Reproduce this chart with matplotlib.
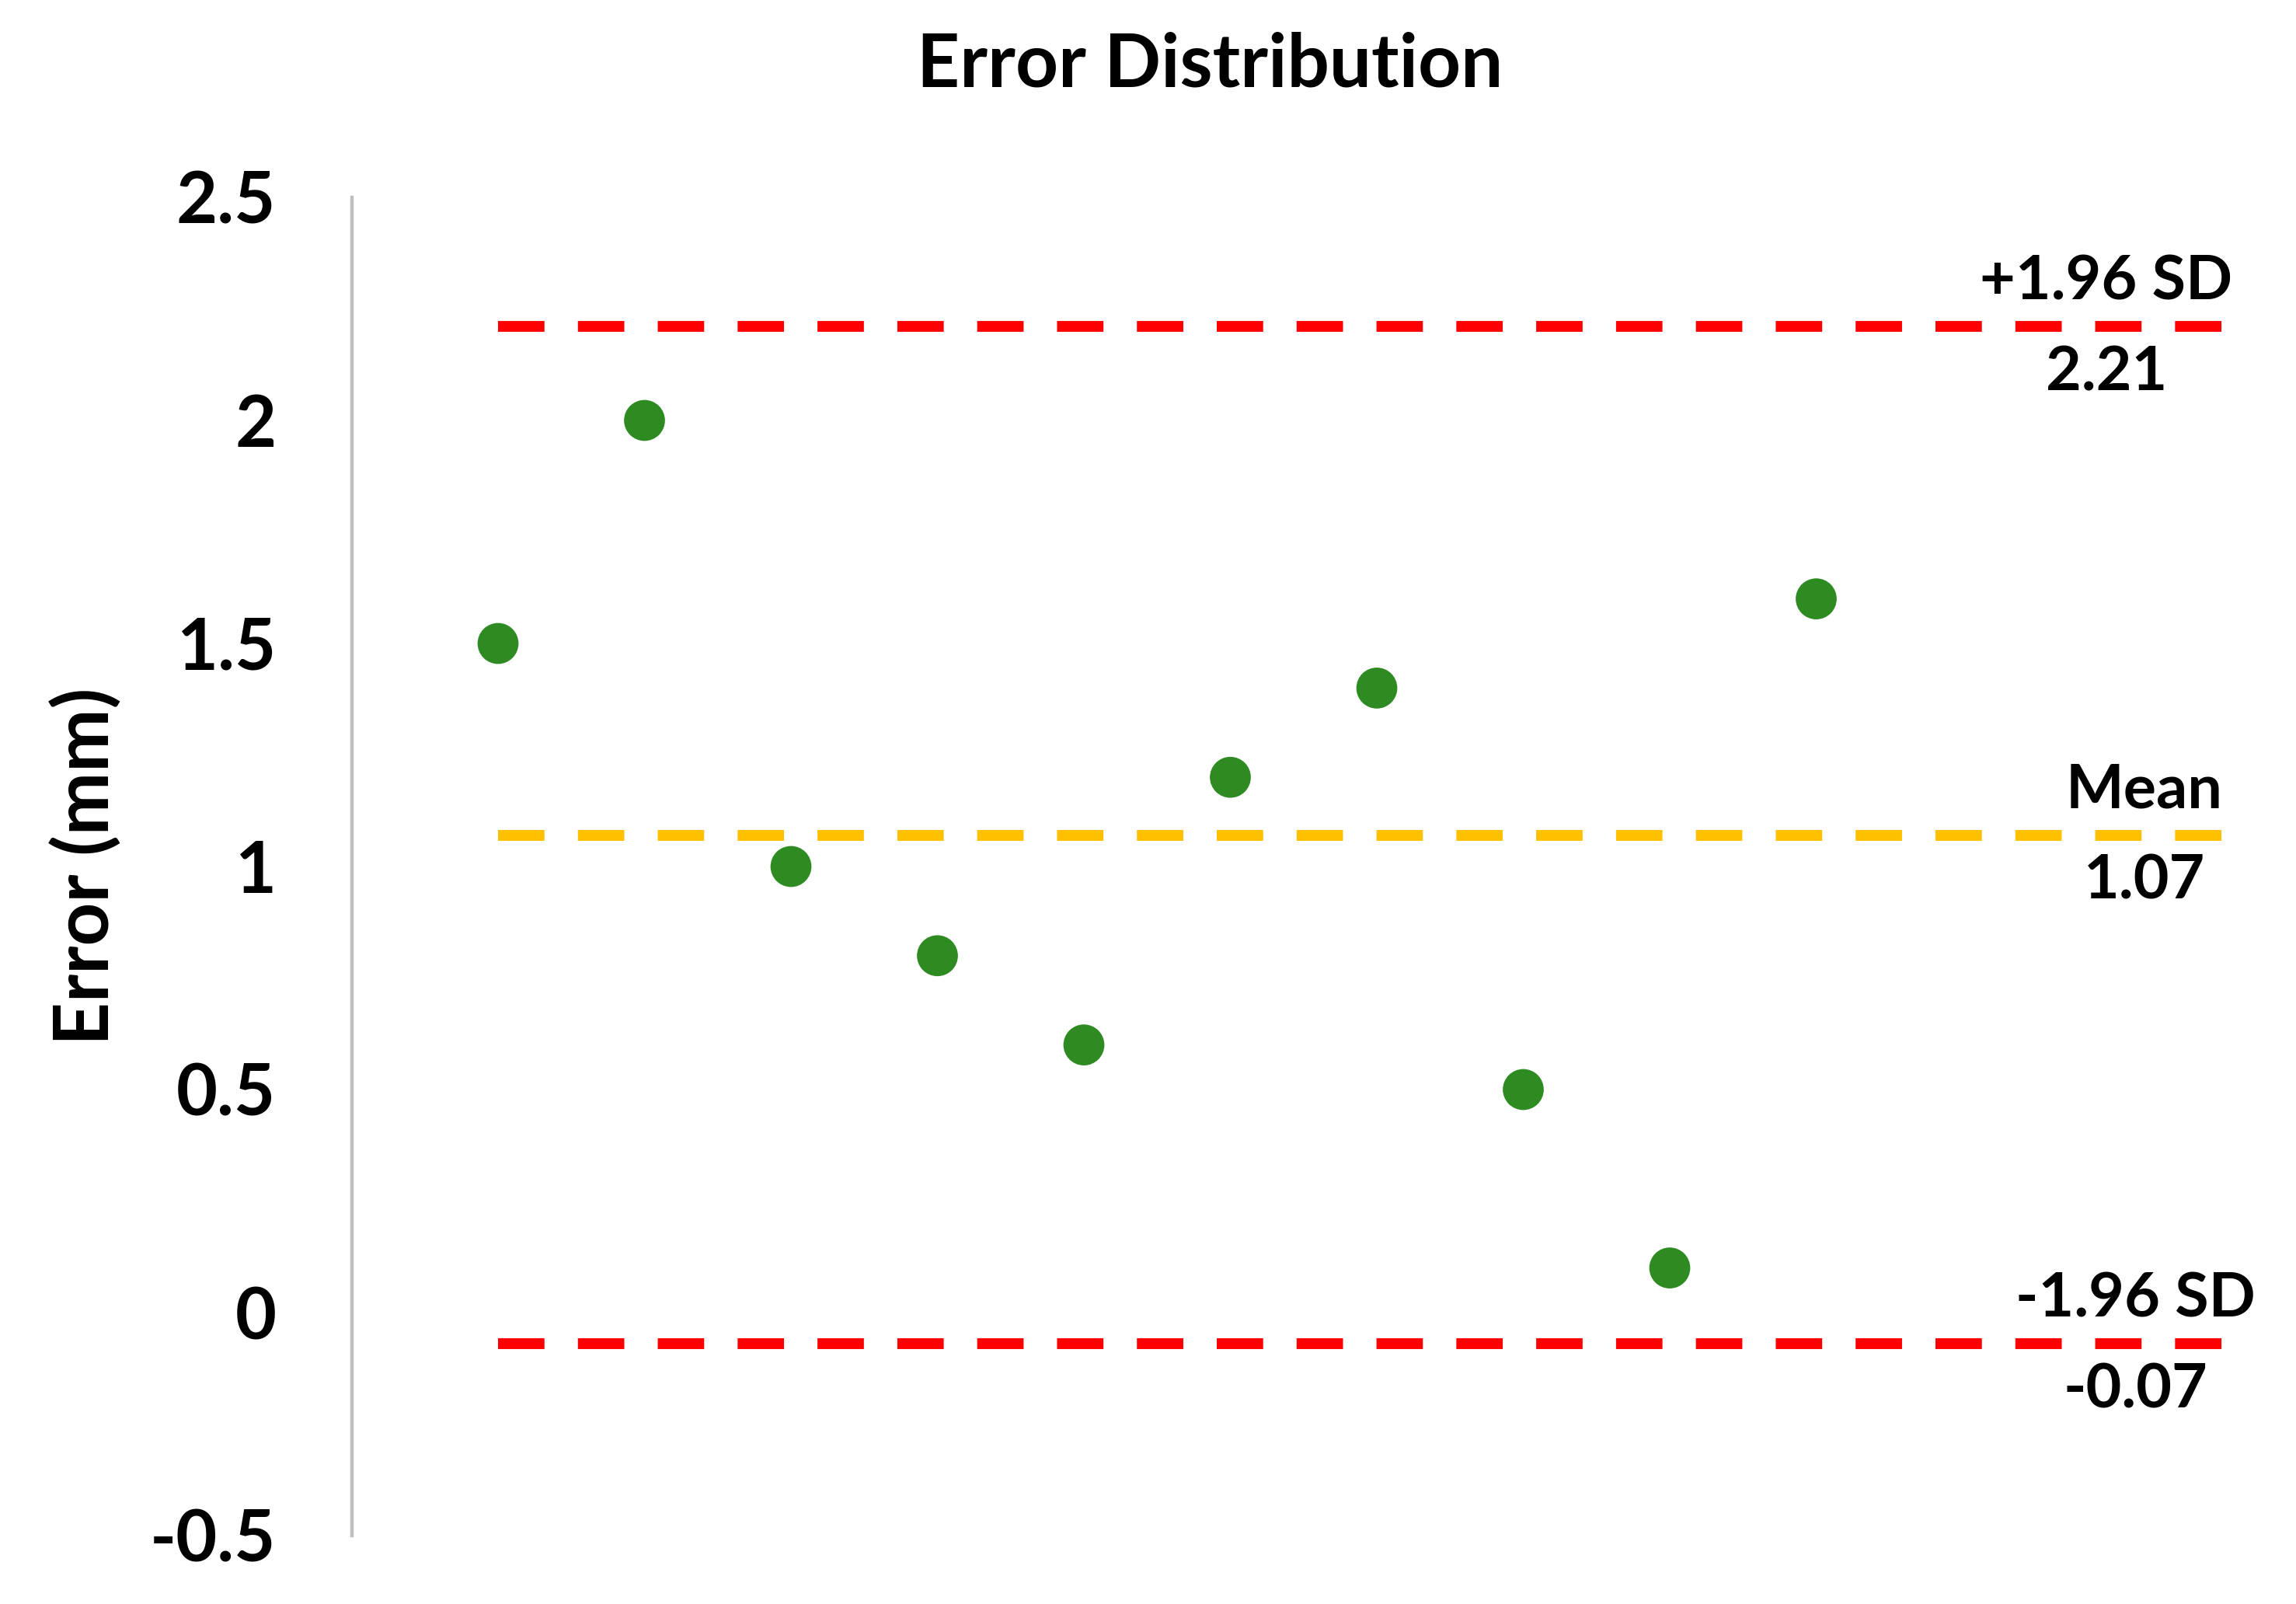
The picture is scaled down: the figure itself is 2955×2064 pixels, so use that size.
import matplotlib
matplotlib.use('Agg')
import matplotlib.pyplot as plt

# ---- data ----
samples = list(range(1, 11))
errors = [1.5, 2.0, 1.0, 0.8, 0.6, 1.2, 1.4, 0.5, 0.1, 1.6]
mean_error = 1.07
upper_loa = 2.21
lower_loa = -0.07
line_span = [1, 12.77]
y_ticks = [-0.5, 0, 0.5, 1, 1.5, 2, 2.5]
y_tick_labels = ['-0.5', '0', '0.5', '1', '1.5', '2', '2.5']

plt.rcParams['font.family'] = ['Lato', 'DejaVu Sans']

W, H = 2955, 2064
DPI = 200
fig = plt.figure(figsize=(W / DPI, H / DPI), dpi=DPI)
ax = fig.add_axes([452.5 / W, 1 - 1976 / H, 2450.5 / W, (1976 - 254) / H])

dash = (0, (4.3, 3.1))
ax.plot(line_span, [upper_loa] * 2, color='#FF0000', lw=5, linestyle=dash,
        dash_capstyle='butt', zorder=2, clip_on=False)
ax.plot(line_span, [mean_error] * 2, color='#FFC000', lw=5, linestyle=dash,
        dash_capstyle='butt', zorder=2, clip_on=False)
ax.plot(line_span, [lower_loa] * 2, color='#FF0000', lw=5, linestyle=dash,
        dash_capstyle='butt', zorder=2, clip_on=False)

ax.scatter(samples, errors, s=360, color='#2E8B22', edgecolors='none', zorder=3)

ax.set_xlim(0, 13)
ax.set_ylim(-0.5, 2.5)
ax.set_yticks(y_ticks)
ax.set_yticklabels(y_tick_labels)
ax.set_xticks([])
ax.tick_params(axis='y', length=0, pad=35, labelsize=33)
for lbl in ax.get_yticklabels():
    lbl.set_fontweight('bold')

for s in ['top', 'right', 'bottom']:
    ax.spines[s].set_visible(False)
ax.spines['left'].set_color('#BFBFBF')
ax.spines['left'].set_linewidth(1.6)

lab_kw = dict(ha='center', va='baseline', fontsize=28.5, fontweight='bold',
              textcoords='offset points', annotation_clip=False)
above, below = 12.6, -29.5
ax.annotate('+1.96 SD', xy=(11.98, upper_loa), xytext=(0, above), **lab_kw)
ax.annotate(f'{upper_loa:.2f}', xy=(11.98, upper_loa), xytext=(0, below), **lab_kw)
ax.annotate('Mean', xy=(12.24, mean_error), xytext=(0, above), **lab_kw)
ax.annotate(f'{mean_error:.2f}', xy=(12.24, mean_error), xytext=(0, below), **lab_kw)
ax.annotate('-1.96 SD', xy=(12.18, lower_loa), xytext=(0, above), **lab_kw)
ax.annotate(f'{lower_loa:.2f}', xy=(12.18, lower_loa), xytext=(0, below), **lab_kw)

ax.set_ylabel('Error (mm)', fontsize=35, fontweight='bold', va='center')
ax.yaxis.set_label_coords((110 - 452.5) / 2450.5, 0.5)

fig.text(1557.6 / W, 1 - 111 / H, 'Error Distribution', ha='center',
         va='baseline', fontsize=34.5, fontweight='bold')

fig.savefig('out.png', dpi=DPI)
